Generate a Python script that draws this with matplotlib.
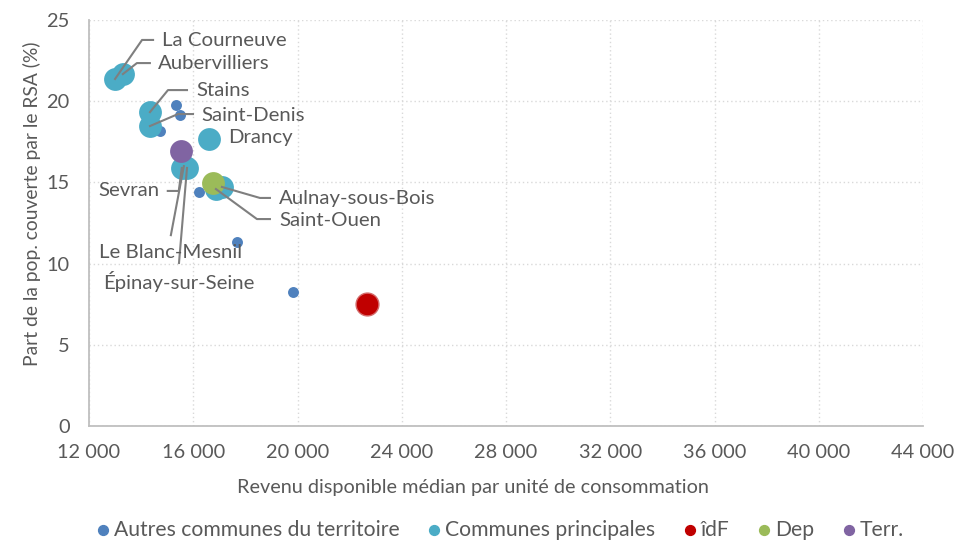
import matplotlib
matplotlib.use("Agg")
import matplotlib.pyplot as plt
import numpy as np

# ---- data ----
autres_x = [15340, 15490, 14720, 16220, 17680, 19830]
autres_y = [19.77, 19.15, 18.17, 14.41, 11.33, 8.25]

princ_names = ['La Courneuve', 'Aubervilliers', 'Stains', 'Saint-Denis', 'Drancy',
               'Sevran', 'Le Blanc-Mesnil', 'Épinay-sur-Seine', 'Aulnay-sous-Bois', 'Saint-Ouen']
princ_x = [13000, 13300, 14340, 14340, 16600, 15560, 15640, 15760, 17100, 16870]
princ_y = [21.37, 21.67, 19.33, 18.47, 17.67, 15.89, 16.0, 15.89, 14.72, 14.59]

idf_x, idf_y = [22670], [7.51]
dep_x, dep_y = [16760], [14.96]
terr_x, terr_y = [15530], [16.93]

xticks = [12000, 16000, 20000, 24000, 28000, 32000, 36000, 40000, 44000]
yticks = [0, 5, 10, 15, 20, 25]

c_autres = '#4F81BD'
c_princ = '#4BACC6'
c_idf = '#C00000'
c_dep = '#9BBB59'
c_terr = '#8064A2'
grey_txt = '#595959'
grey_line = '#7F7F7F'

plt.rcParams['font.family'] = ['Lato', 'DejaVu Sans']

fig = plt.figure(figsize=(9.69, 5.42), dpi=100)
ax0 = fig.add_axes([89/969, 116/542, (923-89)/969, (426-20)/542])
ax0.set_xlim(12000, 44000)
ax0.set_ylim(0, 25)

big = 270
small = 62
ax0.scatter(autres_x, autres_y, s=small, color=c_autres, zorder=3, linewidths=0)
ax0.scatter(princ_x, princ_y, s=big, color=c_princ, zorder=4, linewidths=0)
ax0.scatter(idf_x, idf_y, s=big, color=c_idf, edgecolor='#d46a6a', linewidths=1, zorder=5)
ax0.scatter(dep_x, dep_y, s=big, color=c_dep, zorder=5, linewidths=0)
ax0.scatter(terr_x, terr_y, s=big, color=c_terr, zorder=5, linewidths=0)

# label placement, offsets in pixels (x right, y down) from the point:
# (elbow, line end, text pos, ha)
lab = {
    'La Courneuve': ((27, -39), (38, -39), (47, -38), 'left'),
    'Aubervilliers': ((14, -11), (27, -11), (35, -11), 'left'),
    'Stains': ((18, -22), (37, -22), (46, -22), 'left'),
    'Saint-Denis': ((28, -12), (43, -12), (51, -11), 'left'),
    'Drancy': (None, None, (19, -2), 'left'),
    'Sevran': ((-3, 23), (-14, 23), (-22, 23), 'right'),
    'Le Blanc-Mesnil': (None, (-13, 69), (-13, 86), 'center'),
    'Épinay-sur-Seine': (None, (-8, 95), (-8, 114), 'center'),
    'Aulnay-sous-Bois': ((38, 11), (48, 11), (57, 12), 'left'),
    'Saint-Ouen': ((41, 30), (54, 30), (63, 31), 'left'),
}

inv = ax0.transData.inverted()
def shift(x, y, d):
    px, py = ax0.transData.transform((x, y))
    return inv.transform((px + d[0], py - d[1]))

for name, x, y in zip(princ_names, princ_x, princ_y):
    elbow, end, tpos, ha = lab[name]
    if end is not None:
        pts = [(x, y)]
        if elbow is not None:
            pts.append(shift(x, y, elbow))
        pts.append(shift(x, y, end))
        pts = np.array(pts)
        ax0.plot(pts[:, 0], pts[:, 1], color=grey_line, lw=1.5, zorder=6)
    tx, ty = shift(x, y, tpos)
    ax0.text(tx, ty, name, ha=ha, va='center', fontsize=14.7, color=grey_txt, zorder=7)

ax0.set_xticks(xticks)
ax0.set_xticklabels([f'{v:,}'.replace(',', ' ') for v in xticks])
ax0.set_yticks(yticks)
ax0.tick_params(length=0, labelsize=14.4, colors=grey_txt, pad=13)
ax0.tick_params(axis='y', pad=14)
ax0.grid(True, color='#D9D9D9', linestyle=(0, (1, 2)), lw=1)
ax0.set_axisbelow(True)
for s in ['top', 'right']:
    ax0.spines[s].set_visible(False)
for s in ['left', 'bottom']:
    ax0.spines[s].set_color('#BFBFBF')
    ax0.spines[s].set_linewidth(1.3)

fig.text(473/969, 1 - 488/542, 'Revenu disponible médian par unité de consommation',
         ha='center', va='center', fontsize=14.3, color=grey_txt)
fig.text(32/969, 1 - 204/542, 'Part de la pop. couverte par le RSA (%)',
         ha='center', va='center', rotation=90, fontsize=13.9, color=grey_txt)

handles = [
    ax0.scatter([], [], s=50, color=c_autres, label='Autres communes du territoire'),
    ax0.scatter([], [], s=50, color=c_princ, label='Communes principales'),
    ax0.scatter([], [], s=50, color=c_idf, label='îdF'),
    ax0.scatter([], [], s=50, color=c_dep, label='Dep'),
    ax0.scatter([], [], s=50, color=c_terr, label='Terr.'),
]
leg = fig.legend(handles=handles, loc='center', bbox_to_anchor=(498/969, 1 - 530/542),
                 ncol=5, frameon=False, fontsize=15.2, handletextpad=0.0,
                 columnspacing=1.15, handlelength=1.0, borderpad=0)
for t in leg.get_texts():
    t.set_color(grey_txt)

fig.savefig('out.png', dpi=100)
